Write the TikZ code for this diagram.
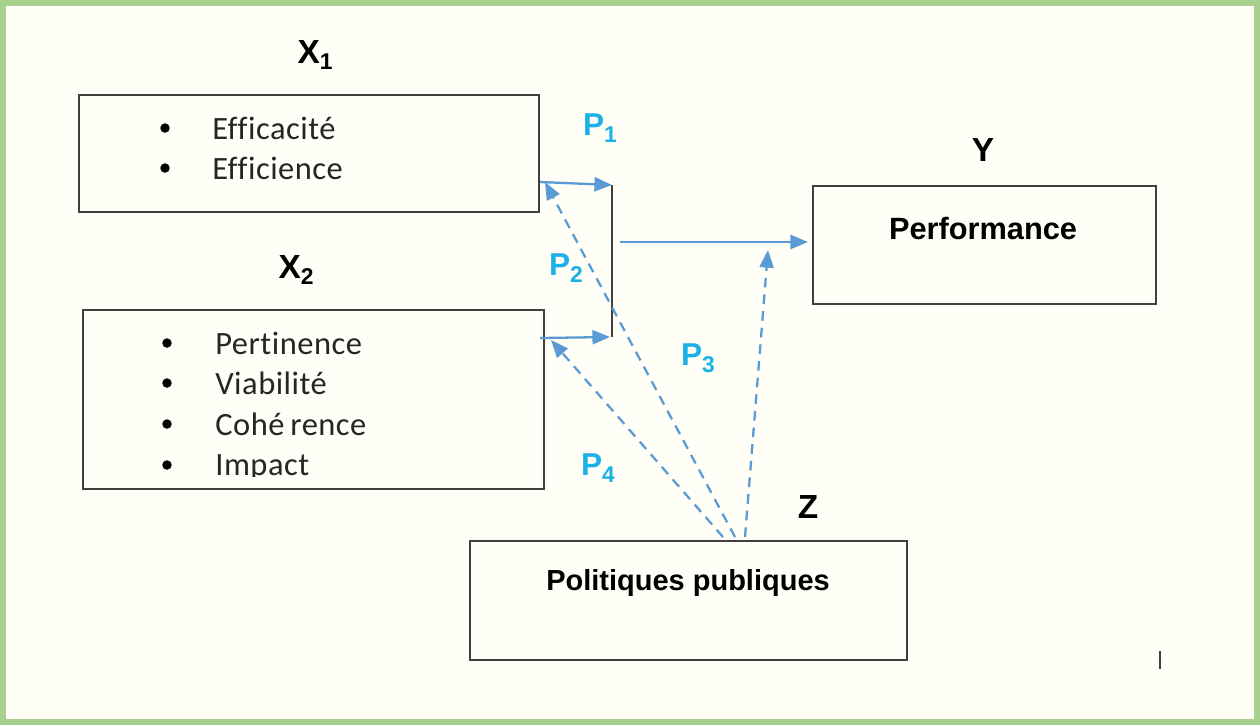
\documentclass[tikz,border=0pt]{standalone}
\usepackage{fontspec}
\setmainfont[Ligatures=NoCommon,LetterSpace=1.5]{Carlito}
\newfontfamily\labfont{Liberation Sans}
\usetikzlibrary{arrows.meta,positioning,calc}
\definecolor{Frame}{HTML}{A9D18E}
\definecolor{Paper}{HTML}{FFFEF7}
\definecolor{Edge}{HTML}{404040}
\definecolor{Link}{HTML}{5B9BD5}
\definecolor{Path}{HTML}{1CB0E8}

\newcommand{\varlab}[2]{{\labfont\bfseries #1\raisebox{-0.35ex}{\fontsize{13}{13}\selectfont #2}}}
\newcommand{\pathlab}[1]{{\labfont\bfseries\color{Path}P\raisebox{-0.4ex}{\fontsize{13}{13}\selectfont #1}}}

\begin{document}
\begin{tikzpicture}[x=0.02cm,y=-0.02cm,>={Triangle[length=10pt,width=8pt]},
  box/.style={draw=Edge,line width=1.2pt,anchor=north west,inner sep=0pt},
  item/.style={anchor=west,font=\fontsize{18.5}{20}\selectfont,inner sep=0pt,text=black!85},
  dot/.style={circle,fill=black,inner sep=0pt,minimum size=5.4pt},
  varname/.style={font=\fontsize{19}{20}\selectfont},
  link/.style={Link,line width=1.3pt,->},
  dlink/.style={link,dash pattern=on 5.5pt off 4pt}]
  \useasboundingbox (0,0) rectangle (1260,725);
  \draw[Frame,line width=3.4pt,fill=Paper] (3,3) rectangle (1257,722);

  % X1
  \node[box,minimum width=9.2cm,minimum height=2.34cm] (x1) at (78,94) {};
  \node[varname] (x1lab) at (315,55) {\varlab{X}{1}};
  \node[dot] (b11) at (165,128) {};
  \node[item] (efficacite) at (212,128) {Efficacité};
  \node[dot] (b12) at (165,168) {};
  \node[item] (efficience) at (212,168) {Efficience};

  % X2
  \node[box,minimum width=9.22cm,minimum height=3.58cm] (x2) at (82,309) {};
  \node[varname] (x2lab) at (296,270) {\varlab{X}{2}};
  \foreach \yy/\txt [count=\i] in {343/Pertinence,383/Viabilité,424/Cohé\hspace{0.18em}rence} {
    \node[dot] (b2\i) at (167,\yy) {};
    \node[item] (it2\i) at (215,\yy) {\txt};
  }
  \node[dot] (b24) at (167,465) {};
  \begin{scope}
    \clip (200,440) rectangle (400,476);
    \node[item] (it24) at (215,468) {Impact};
  \end{scope}

  % Y
  \node[box,minimum width=6.86cm,minimum height=2.36cm] (y) at (812,185) {};
  \node[varname] (ylab) at (983,150) {{\labfont\bfseries Y}};
  \node[font=\labfont\bfseries\fontsize{17.5}{20}\selectfont] (perf) at (983,228) {Performance};

  % Z
  \node[box,minimum width=8.74cm,minimum height=2.38cm] (z) at (469,540) {};
  \node[varname] (zlab) at (808,507) {{\labfont\bfseries Z}};
  \node[font=\labfont\bfseries\fontsize{16.5}{20}\selectfont] (polpub) at (688,583) {Politiques publiques};

  % joint bar and end points
  \coordinate (bt) at (612,185);
  \coordinate (bb) at (612,337);
  \draw[Edge,line width=1.2pt] (bt) -- (bb);
  \coordinate (a1s) at (540,182);
  \coordinate (a2s) at (540,338);
  \coordinate (a2e) at (610,337);
  \coordinate (ms) at (620,242);
  \coordinate (me) at (808,242);
  \coordinate (p2t) at (545,182);
  \coordinate (p4t) at (551,340);
  \coordinate (p3t) at (768,250);
  \coordinate (zp2) at (735,537);
  \coordinate (zp4) at (723,537);
  \coordinate (zp3) at (745,537);

  \draw[link] (a1s) -- (bt);
  \draw[link] (a2s) -- (a2e);
  \draw[link] (ms) -- (me);
  \draw[dlink] (zp2) -- (p2t);
  \draw[dlink] (zp4) -- (p4t);
  \draw[dlink] (zp3) -- (p3t);

  \node (p1) at (600,128) {\fontsize{18}{20}\selectfont\pathlab{1}};
  \node (p2) at (566,268) {\fontsize{18}{20}\selectfont\pathlab{2}};
  \node (p3) at (698,358) {\fontsize{18}{20}\selectfont\pathlab{3}};
  \node (p4) at (598,468) {\fontsize{18}{20}\selectfont\pathlab{4}};

  % stray tick
  \coordinate (tk1) at (1160,651);
  \coordinate (tk2) at (1160,669);
  \draw[Edge,line width=1pt] (tk1) -- (tk2);
\end{tikzpicture}
\end{document}
